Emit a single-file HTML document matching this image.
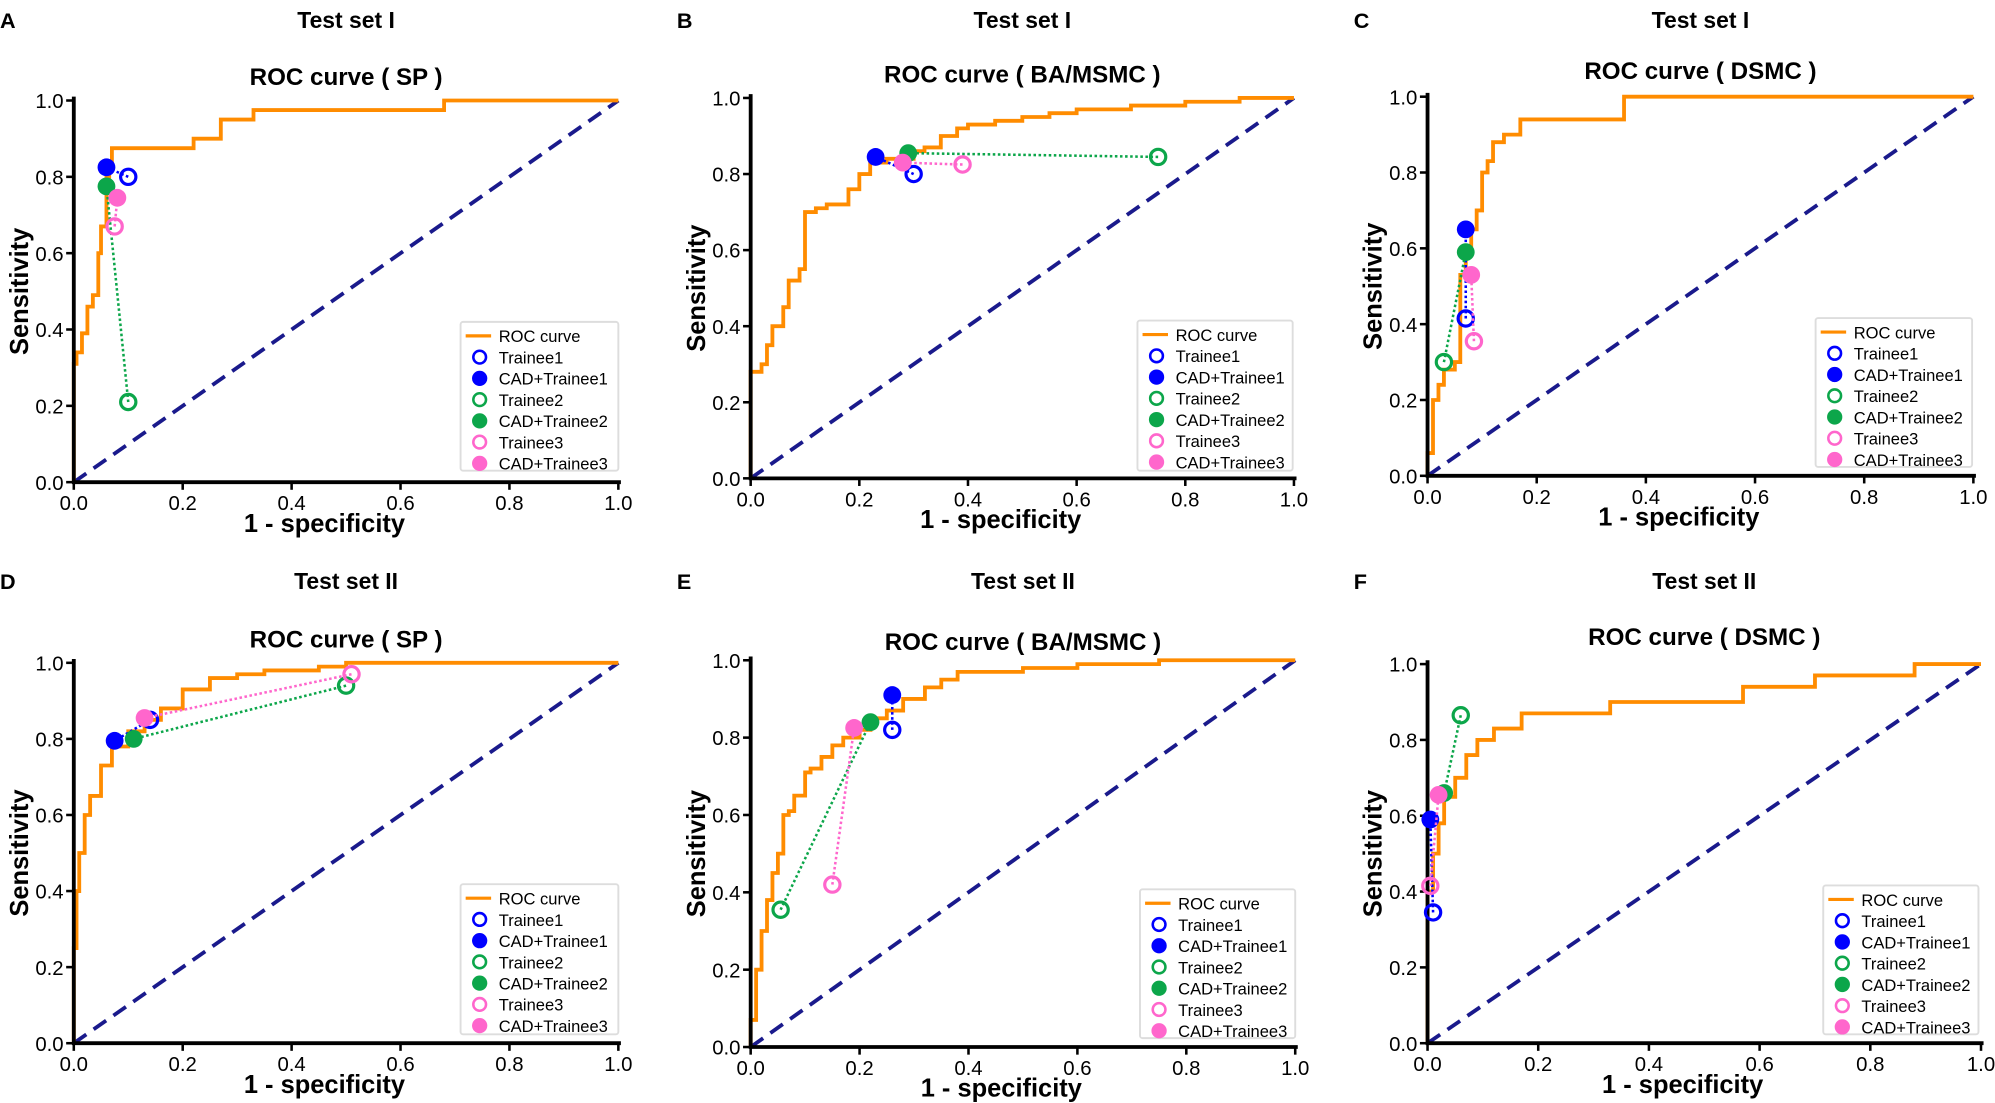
<!DOCTYPE html><html><head><meta charset="utf-8"><style>body{margin:0;background:#fff}svg{display:block}text{font-family:"Liberation Sans",Arial,sans-serif}</style></head><body>
<svg id="s" width="1995" height="1103" viewBox="0 0 1568 867" preserveAspectRatio="none" xmlns="http://www.w3.org/2000/svg"></svg>
<script>
const P=[
{l:'A',t:'Test set I',s:'ROC curve ( SP )',x0:58,x1:486,y0:379,y1:79,tY:15,sY:60,lg:[362,253,124,117],
roc:[[0,.31],[.005,.34],[.015,.39],[.025,.46],[.035,.49],[.045,.6],[.05,.67],[.06,.8],[.065,.82],[.07,.875],[.22,.9],[.27,.95],[.33,.975],[.68,1],[1,1]],
m:[[.1,.8,.06,.825],[.1,.21,.06,.775],[.075,.67,.08,.745]]},
{l:'B',t:'Test set I',s:'ROC curve ( BA/MSMC )',x0:590,x1:1017,y0:376,y1:77,tY:15,sY:58,lg:[894,252,122,118],
roc:[[0,.28],[.02,.3],[.03,.35],[.04,.4],[.06,.45],[.07,.52],[.09,.55],[.1,.7],[.12,.71],[.14,.72],[.17,.72],[.18,.76],[.2,.8],[.22,.83],[.25,.84],[.3,.86],[.32,.87],[.35,.9],[.38,.92],[.4,.93],[.45,.94],[.5,.95],[.55,.96],[.6,.97],[.7,.98],[.8,.99],[.9,1],[1,1]],
m:[[.3,.8,.23,.845],[.75,.845,.29,.855],[.39,.825,.28,.83]]},
{l:'C',t:'Test set I',s:'ROC curve ( DSMC )',x0:1122,x1:1551,y0:374,y1:76,tY:15,sY:55,lg:[1427,250,123,117],
roc:[[0,.06],[.01,.2],[.02,.24],[.03,.28],[.05,.3],[.06,.53],[.07,.6],[.08,.65],[.09,.7],[.1,.8],[.11,.83],[.12,.88],[.14,.9],[.17,.94],[.36,1],[1,1]],
m:[[.07,.415,.07,.65],[.03,.3,.07,.59],[.085,.355,.08,.53]]},
{l:'D',t:'Test set II',s:'ROC curve ( SP )',x0:58,x1:486,y0:820,y1:521,tY:456,sY:502,lg:[362,695,124,118],
roc:[[0,.25],[.005,.4],[.01,.5],[.02,.6],[.03,.65],[.05,.73],[.07,.78],[.1,.82],[.13,.85],[.16,.88],[.2,.93],[.25,.96],[.3,.97],[.35,.98],[.45,.99],[.5,1],[1,1]],
m:[[.14,.85,.075,.795],[.5,.94,.11,.8],[.51,.97,.13,.855]]},
{l:'E',t:'Test set II',s:'ROC curve ( BA/MSMC )',x0:590,x1:1018,y0:823,y1:519,tY:456,sY:504,lg:[896,699,122,117],
roc:[[0,.07],[.01,.2],[.02,.3],[.03,.38],[.04,.45],[.05,.5],[.06,.6],[.07,.61],[.08,.65],[.1,.71],[.11,.72],[.13,.75],[.15,.78],[.17,.8],[.2,.82],[.22,.85],[.25,.87],[.28,.9],[.32,.93],[.35,.95],[.38,.97],[.5,.98],[.6,.99],[.75,1],[1,1]],
m:[[.26,.82,.26,.91],[.055,.355,.22,.84],[.15,.42,.19,.825]]},
{l:'F',t:'Test set II',s:'ROC curve ( DSMC )',x0:1122,x1:1557,y0:820,y1:522,tY:456,sY:500,lg:[1433,696,122,117],
roc:[[0,.4],[.01,.5],[.02,.58],[.03,.65],[.05,.7],[.07,.76],[.09,.8],[.12,.83],[.17,.87],[.33,.9],[.57,.94],[.7,.97],[.88,1],[1,1]],
m:[[.01,.345,.005,.59],[.06,.865,.03,.66],[.005,.415,.02,.655]]}];
const C=['#0000ff','#0ca64a','#ff66cc'];let h='';
for(const p of P){const X=v=>p.x0+v*(p.x1-p.x0),Y=v=>p.y0-v*(p.y0-p.y1);const cx=(p.x0+p.x1)/2;
h+=`<text x="${p.x0-58}" y="${p.tY+7}" font-size="17" font-weight="bold">${p.l}</text>`;
h+=`<text x="${cx}" y="${p.tY+7}" font-size="18" font-weight="bold" text-anchor="middle">${p.t}</text>`;
h+=`<text x="${cx}" y="${p.sY+7}" font-size="19" font-weight="bold" text-anchor="middle">${p.s}</text>`;
h+=`<line x1="${X(0)}" y1="${Y(0)}" x2="${X(1)}" y2="${Y(1)}" stroke="#1a1a8c" stroke-width="3" stroke-dasharray="12,7"/>`;
let d='M'+X(p.roc[0][0])+','+Y(0);let py=0;for(const [a,b] of p.roc){d+=`L${X(a)},${Y(py)}L${X(a)},${Y(b)}`;py=b;}
h+=`<path d="${d}" fill="none" stroke="#ff8c00" stroke-width="3"/>`;
h+=`<path d="M${p.x0},${p.y1-3}V${p.y0}H${p.x1+2}" fill="none" stroke="#000" stroke-width="3"/>`;
for(let i=0;i<=5;i++){const v=i/5;h+=`<line x1="${X(v)}" y1="${p.y0}" x2="${X(v)}" y2="${p.y0+6}" stroke="#000" stroke-width="2"/><text x="${X(v)}" y="${p.y0+22}" font-size="16" text-anchor="middle">${v.toFixed(1)}</text>`;
h+=`<line x1="${p.x0-6}" y1="${Y(v)}" x2="${p.x0}" y2="${Y(v)}" stroke="#000" stroke-width="2"/><text x="${p.x0-8}" y="${Y(v)+6}" font-size="16" text-anchor="end">${v.toFixed(1)}</text>`;}
h+=`<text x="${cx-17}" y="${p.y0+39}" font-size="20" font-weight="bold" text-anchor="middle">1 - specificity</text>`;
h+=`<text transform="translate(${p.x0-36},${(p.y0+p.y1)/2}) rotate(-90)" font-size="20" font-weight="bold" text-anchor="middle">Sensitivity</text>`;
p.m.forEach((m,i)=>{const c=C[i];h+=`<line x1="${X(m[0])}" y1="${Y(m[1])}" x2="${X(m[2])}" y2="${Y(m[3])}" stroke="${c}" stroke-width="2" stroke-dasharray="2,2"/>`;
h+=`<circle cx="${X(m[0])}" cy="${Y(m[1])}" r="6" fill="none" stroke="${c}" stroke-width="2.5"/><circle cx="${X(m[2])}" cy="${Y(m[3])}" r="7" fill="${c}"/>`;});
const [lx,ly,lw,lh]=p.lg;h+=`<rect x="${lx}" y="${ly}" width="${lw}" height="${lh}" fill="#fff" stroke="#ddd" stroke-width="1.5" rx="2"/>`;
const names=['ROC curve','Trainee1','CAD+Trainee1','Trainee2','CAD+Trainee2','Trainee3','CAD+Trainee3'];
names.forEach((n,k)=>{const yy=ly+11+k*16.7;if(k==0)h+=`<line x1="${lx+4}" y1="${yy}" x2="${lx+24}" y2="${yy}" stroke="#ff8c00" stroke-width="2.5"/>`;
else{const c=C[Math.floor((k-1)/2)];h+=k%2?`<circle cx="${lx+15}" cy="${yy}" r="5" fill="none" stroke="${c}" stroke-width="2"/>`:`<circle cx="${lx+15}" cy="${yy}" r="6" fill="${c}"/>`;}
h+=`<text x="${lx+30}" y="${yy+5}" font-size="13">${n}</text>`;});}
document.getElementById('s').innerHTML=h;
</script></body></html>
